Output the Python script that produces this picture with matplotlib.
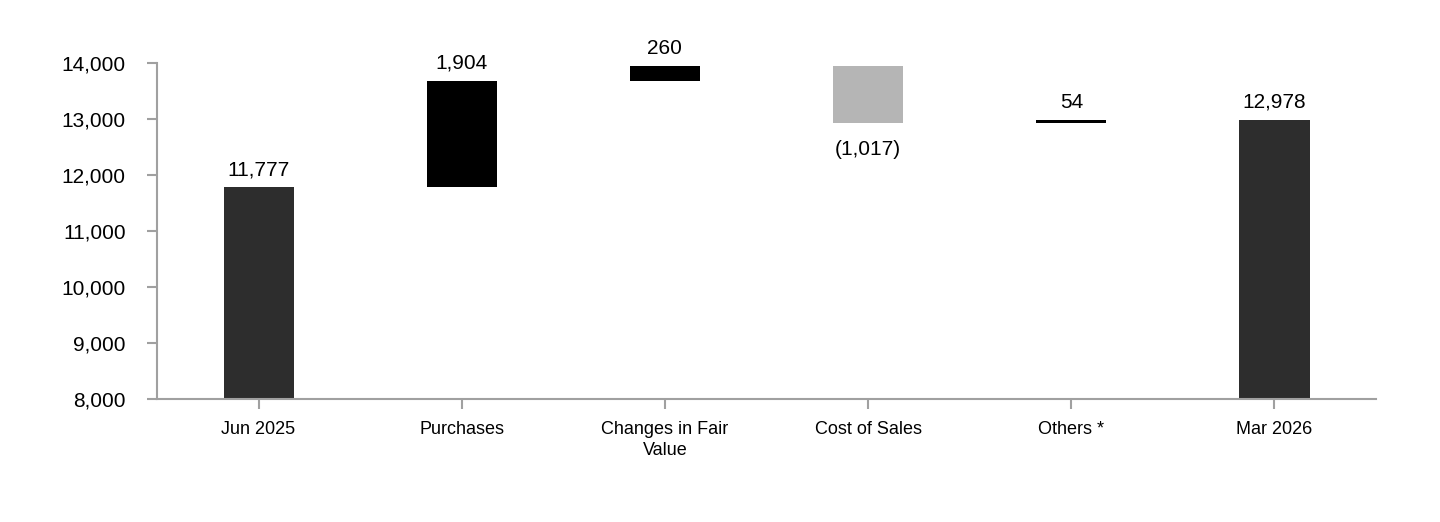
import matplotlib.pyplot as plt
import numpy as np

plt.rcParams['font.family'] = ['Liberation Sans', 'DejaVu Sans']

categories = ["Jun 2025", "Purchases", "Changes in Fair\nValue", "Cost of Sales", "Others *", "Mar 2026"]
start_value = 11777
changes = [1904, 260, -1017, 54]
end_value = 12978
labels = ["11,777", "1,904", "260", "(1,017)", "54", "12,978"]
colors = ["#2d2d2d", "#000000", "#000000", "#b5b5b5", "#000000", "#2d2d2d"]

# build floating bars
bottoms = [8000]
heights = [start_value - 8000]
running = start_value
for c in changes:
    lo = running if c > 0 else running + c
    bottoms.append(lo)
    heights.append(abs(c))
    running += c
bottoms.append(8000)
heights.append(end_value - 8000)

fig = plt.figure(figsize=(14.4, 5.22), dpi=100)
ax = fig.add_axes([0.109, 0.2356, 0.8466, 0.6437])

x = np.arange(len(categories))
ax.bar(x, heights, bottom=bottoms, width=0.345, color=colors)

signs = [1] + changes + [1]
for i in range(len(categories)):
    if signs[i] >= 0:
        ax.annotate(labels[i], (x[i], bottoms[i] + heights[i]), xytext=(0, 6),
                    textcoords="offset points", ha="center", va="bottom", fontsize=15)
    else:
        ax.annotate(labels[i], (x[i], bottoms[i]), xytext=(0, -12),
                    textcoords="offset points", ha="center", va="top", fontsize=15)

ax.set_xlim(-0.5, 5.5)
ax.set_ylim(8000, 14000)
ax.set_yticks(range(8000, 14001, 1000))
ax.set_yticklabels(["{:,}".format(v) for v in range(8000, 14001, 1000)], fontsize=15)
ax.set_xticks(x)
ax.set_xticklabels(categories, fontsize=13, linespacing=1.35)

for s in ["top", "right"]:
    ax.spines[s].set_visible(False)
for s in ["left", "bottom"]:
    ax.spines[s].set_color("#a0a0a0")
    ax.spines[s].set_linewidth(1.5)
ax.tick_params(axis="both", colors="#a0a0a0", length=7.5, width=1.5, labelcolor="black")
ax.tick_params(axis="y", pad=15)
ax.tick_params(axis="x", pad=8)

fig.savefig("out.png", dpi=100)
